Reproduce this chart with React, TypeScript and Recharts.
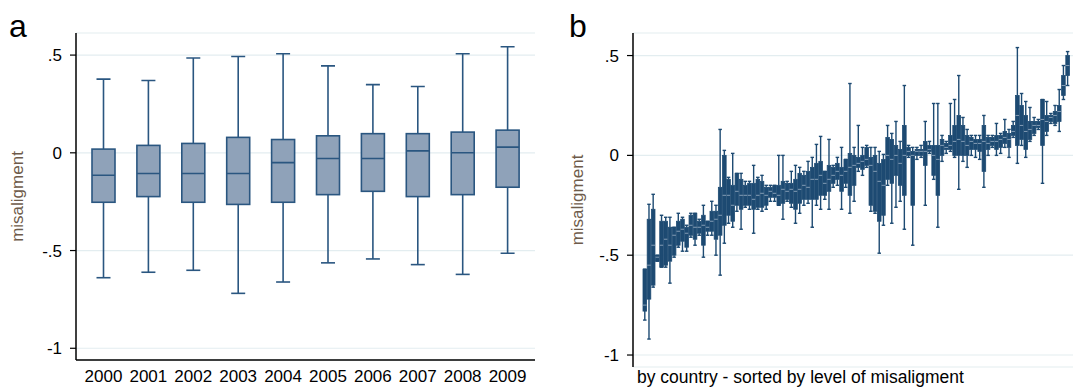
import { ComposedChart, Bar, XAxis, YAxis, CartesianGrid } from "recharts";

// panel a: yearly distribution of misalignment
const years = ["2000", "2001", "2002", "2003", "2004", "2005", "2006", "2007", "2008", "2009"];
const yearHigh = [0.377, 0.37, 0.485, 0.493, 0.507, 0.445, 0.349, 0.339, 0.507, 0.543];
const yearQ3 = [0.019, 0.038, 0.048, 0.079, 0.068, 0.087, 0.098, 0.098, 0.106, 0.116];
const yearMed = [-0.115, -0.106, -0.106, -0.106, -0.05, -0.029, -0.029, 0.01, 0.0, 0.029];
const yearQ1 = [-0.253, -0.224, -0.253, -0.264, -0.253, -0.214, -0.197, -0.224, -0.214, -0.176];
const yearLow = [-0.639, -0.611, -0.601, -0.719, -0.661, -0.563, -0.543, -0.572, -0.622, -0.514];

// panel b: one box per country, sorted by level
const countryHigh = [
  -0.57, -0.245, -0.195, -0.5, -0.3, -0.31, -0.31, -0.36, -0.29, -0.31,
  -0.35, -0.29, -0.29, -0.32, -0.25, -0.33, -0.23, -0.25, 0.13, 0.025,
  -0.11, 0.01, -0.09, -0.09, -0.13, -0.13, -0.05, -0.11, -0.1, -0.15,
  -0.15, -0.15, 0.0, 0.0, -0.13, -0.08, -0.05, -0.06, -0.08, -0.03,
  -0.01, 0.055, 0.095, -0.08, 0.08, -0.05, -0.01, 0.04, -0.02, 0.36,
  0.04, 0.15, 0.04, 0.05, 0.04, 0.04, 0.02, 0.005, 0.15, 0.11,
  0.17, 0.07, 0.35, 0.05, 0.04, 0.04, 0.05, 0.17, 0.07, 0.26,
  0.26, 0.1, 0.07, 0.26, 0.28, 0.4, 0.19, 0.13, 0.1, 0.1,
  0.1, 0.2, 0.1, 0.1, 0.16, 0.11, 0.18, 0.13, 0.17, 0.54,
  0.31, 0.27, 0.24, 0.19, 0.18, 0.28, 0.27, 0.21, 0.25, 0.33,
  0.45, 0.52,
];
const countryQ3 = [
  -0.57, -0.32, -0.27, -0.5, -0.33, -0.33, -0.36, -0.36, -0.33, -0.32,
  -0.36, -0.3, -0.29, -0.33, -0.3, -0.33, -0.28, -0.28, -0.16, 0.0,
  -0.12, -0.15, -0.09, -0.12, -0.15, -0.14, -0.14, -0.12, -0.13, -0.16,
  -0.16, -0.15, -0.15, -0.13, -0.14, -0.14, -0.12, -0.09, -0.1, -0.08,
  -0.06, -0.04, -0.03, -0.08, -0.05, -0.06, -0.04, -0.06, -0.02, 0.01,
  0.0, -0.01, 0.0, 0.04, -0.01, 0.0, -0.04, -0.02, 0.09, 0.08,
  0.05, 0.03, 0.15, 0.04, 0.02, 0.03, 0.03, 0.07, 0.05, 0.05,
  0.05, 0.08, 0.06, 0.1, 0.15, 0.2, 0.15, 0.1, 0.09, 0.08,
  0.08, 0.15, 0.09, 0.09, 0.1, 0.1, 0.12, 0.11, 0.15, 0.3,
  0.25, 0.2, 0.17, 0.17, 0.17, 0.28, 0.2, 0.2, 0.22, 0.25,
  0.4, 0.5,
];
const countryMed = [
  -0.75, -0.55, -0.45, -0.51, -0.45, -0.42, -0.45, -0.4, -0.38, -0.37,
  -0.39, -0.35, -0.36, -0.36, -0.35, -0.36, -0.33, -0.32, -0.3, -0.2,
  -0.2, -0.25, -0.18, -0.2, -0.2, -0.2, -0.22, -0.2, -0.19, -0.2,
  -0.18, -0.19, -0.2, -0.17, -0.18, -0.17, -0.18, -0.17, -0.15, -0.16,
  -0.12, -0.12, -0.1, -0.14, -0.12, -0.1, -0.08, -0.1, -0.08, -0.06,
  -0.05, -0.04, -0.03, -0.02, -0.05, -0.08, -0.13, -0.15, 0.0, -0.02,
  0.0, -0.04, 0.0, 0.02, 0.0, 0.02, 0.02, 0.02, 0.03, 0.0,
  -0.02, 0.05, 0.04, 0.05, 0.07, 0.08, 0.07, 0.05, 0.07, 0.06,
  0.06, 0.07, 0.06, 0.07, 0.07, 0.08, 0.09, 0.08, 0.12, 0.2,
  0.15, 0.12, 0.13, 0.15, 0.15, 0.18, 0.17, 0.19, 0.2, 0.22,
  0.35, 0.45,
];
const countryQ1 = [
  -0.78, -0.72, -0.65, -0.53, -0.56, -0.55, -0.53, -0.5, -0.45, -0.43,
  -0.46, -0.4, -0.42, -0.39, -0.45, -0.38, -0.38, -0.42, -0.4, -0.35,
  -0.3, -0.33, -0.25, -0.27, -0.25, -0.25, -0.27, -0.26, -0.26, -0.25,
  -0.21, -0.21, -0.25, -0.24, -0.22, -0.24, -0.27, -0.24, -0.22, -0.22,
  -0.22, -0.22, -0.2, -0.2, -0.18, -0.14, -0.12, -0.18, -0.14, -0.2,
  -0.15, -0.06, -0.07, -0.05, -0.25, -0.28, -0.33, -0.3, -0.12, -0.14,
  -0.1, -0.15, -0.2, 0.0, -0.25, 0.0, 0.0, -0.05, 0.02, -0.1,
  -0.2, 0.0, 0.03, 0.03, 0.0, 0.0, 0.0, 0.0, 0.03, 0.03,
  0.02, -0.08, 0.03, 0.05, 0.03, 0.04, 0.06, 0.04, 0.1, 0.05,
  0.08, 0.03, 0.08, 0.11, 0.14, 0.05, 0.12, 0.17, 0.16, 0.17,
  0.3, 0.4,
];
const countryLow = [
  -0.825, -0.92, -0.66, -0.53, -0.56, -0.56, -0.64, -0.51, -0.46, -0.48,
  -0.48, -0.41, -0.45, -0.4, -0.51, -0.4, -0.4, -0.5, -0.6, -0.44,
  -0.34, -0.36, -0.28, -0.37, -0.26, -0.27, -0.39, -0.27, -0.28, -0.27,
  -0.23, -0.23, -0.25, -0.32, -0.23, -0.26, -0.34, -0.29, -0.25, -0.24,
  -0.36, -0.25, -0.27, -0.22, -0.27, -0.16, -0.15, -0.27, -0.16, -0.29,
  -0.23, -0.08, -0.1, -0.06, -0.28, -0.29, -0.49, -0.35, -0.15, -0.34,
  -0.26, -0.23, -0.37, -0.01, -0.45, -0.02, -0.01, -0.25, 0.01, -0.12,
  -0.36, -0.03, 0.01, 0.02, -0.01, -0.17, -0.03, -0.06, 0.0, -0.01,
  -0.02, -0.16, 0.0, 0.04, 0.0, 0.01, 0.04, -0.01, 0.09, -0.04,
  0.05, -0.01, 0.07, 0.1, 0.13, -0.14, 0.1, 0.16, 0.15, 0.12,
  0.28, 0.35,
];

const yTicks = [-1, -0.5, 0, 0.5];
const yTickLabels = ["-1", "-.5", "0", ".5"];
const yDomain = [-1.06, 0.613];

const FONT = '"Liberation Sans", Arial, sans-serif';
const TITLE_COLOR = "#6e5b4a";

const yearData = years.map((year, i) => ({
  year,
  high: yearHigh[i],
  q3: yearQ3[i],
  med: yearMed[i],
  q1: yearQ1[i],
  low: yearLow[i],
}));

const countryData = countryHigh.map((high, i) => ({
  country: `c${i + 1}`,
  high,
  q3: countryQ3[i],
  med: countryMed[i],
  q1: countryQ1[i],
  low: countryLow[i],
}));

type BoxStyle = {
  fill: string;
  stroke: string;
  median: string;
  capWidth: number;
  lineWidth: number;
  boxStroke: number;
};

// range bar spans low..high; inner marks are placed within that pixel span
function makeBoxShape(s: BoxStyle) {
  return (props: any) => {
    const { x, y, width, height, payload } = props;
    if (x == null || y == null || !payload) return <g />;
    const top = Math.min(y, y + height);
    const bottom = Math.max(y, y + height);
    const span = payload.high - payload.low;
    const toY = (v: number) =>
      span === 0 ? top : top + ((payload.high - v) / span) * (bottom - top);
    const cx = x + width / 2;
    const q3y = toY(payload.q3);
    const q1y = toY(payload.q1);
    const my = toY(payload.med);
    const half = s.capWidth / 2;
    return (
      <g>
        <line x1={cx} x2={cx} y1={top} y2={q3y} stroke={s.stroke} strokeWidth={s.lineWidth} />
        <line x1={cx} x2={cx} y1={q1y} y2={bottom} stroke={s.stroke} strokeWidth={s.lineWidth} />
        <line x1={cx - half} x2={cx + half} y1={top} y2={top} stroke={s.stroke} strokeWidth={s.lineWidth} />
        <line x1={cx - half} x2={cx + half} y1={bottom} y2={bottom} stroke={s.stroke} strokeWidth={s.lineWidth} />
        <rect
          x={x}
          y={q3y}
          width={width}
          height={Math.max(q1y - q3y, 1)}
          fill={s.fill}
          stroke={s.stroke}
          strokeWidth={s.boxStroke}
        />
        <line x1={x} x2={x + width} y1={my} y2={my} stroke={s.median} strokeWidth={s.boxStroke} />
      </g>
    );
  };
}

const yearBox = makeBoxShape({
  fill: "#8fa2b9",
  stroke: "#2a5680",
  median: "#2a5680",
  capWidth: 14,
  lineWidth: 1.6,
  boxStroke: 1.6,
});

const countryBox = makeBoxShape({
  fill: "#1d4a72",
  stroke: "#1d4a72",
  median: "#9fb2c6",
  capWidth: 3.5,
  lineWidth: 1.4,
  boxStroke: 0.8,
});

const tickFmt = (v: number) => yTickLabels[yTicks.indexOf(v)] ?? String(v);
const tickStyle = { fill: "#000", fontSize: 17, fontFamily: FONT };

function PanelA() {
  return (
    <ComposedChart
      width={540}
      height={387}
      data={yearData}
      margin={{ top: 33, right: 5, bottom: 0, left: 0 }}
    >
      <CartesianGrid vertical={false} stroke="#e3edf0" strokeWidth={1.2} />
      <XAxis
        dataKey="year"
        interval={0}
        height={27}
        padding={{ left: 5, right: 5 }}
        tickLine={false}
        axisLine={{ stroke: "#000", strokeWidth: 1.5 }}
        tick={tickStyle}
        tickMargin={4}
      />
      <YAxis
        width={76}
        domain={yDomain}
        ticks={yTicks}
        tickFormatter={tickFmt}
        allowDataOverflow
        axisLine={{ stroke: "#000", strokeWidth: 1.5 }}
        tickLine={{ stroke: "#000", strokeWidth: 1.2 }}
        tick={tickStyle}
        tickMargin={8}
        label={{
          value: "misaligment",
          angle: -90,
          position: "insideLeft",
          offset: 17,
          style: { textAnchor: "middle", fill: TITLE_COLOR, fontSize: 17, fontFamily: FONT },
        }}
      />
      <Bar
        dataKey={(d: any) => [d.low, d.high]}
        barSize={23}
        shape={yearBox}
        isAnimationActive={false}
      />
    </ComposedChart>
  );
}

function PanelB() {
  return (
    <ComposedChart
      width={533}
      height={387}
      data={countryData}
      margin={{ top: 33, right: 0, bottom: 0, left: 0 }}
    >
      <CartesianGrid vertical={false} stroke="#e3edf0" strokeWidth={1.2} />
      <XAxis
        dataKey="country"
        height={20}
        padding={{ left: 10, right: 3 }}
        tick={false}
        tickLine={false}
        axisLine={false}
        label={{
          value: "by country - sorted by level of misaligment",
          position: "insideTopLeft",
          offset: 4,
          style: { fill: "#000", fontSize: 17.5, fontFamily: FONT },
        }}
      />
      <YAxis
        width={93}
        domain={yDomain}
        ticks={yTicks}
        tickFormatter={tickFmt}
        allowDataOverflow
        axisLine={{ stroke: "#000", strokeWidth: 1.5 }}
        tickLine={{ stroke: "#000", strokeWidth: 1.2 }}
        tick={tickStyle}
        tickMargin={8}
        label={{
          value: "misaligment",
          angle: -90,
          position: "insideLeft",
          offset: 37,
          style: { textAnchor: "middle", fill: TITLE_COLOR, fontSize: 17, fontFamily: FONT },
        }}
      />
      <Bar
        dataKey={(d: any) => [d.low, d.high]}
        barSize={3.6}
        shape={countryBox}
        isAnimationActive={false}
      />
    </ComposedChart>
  );
}

export default function App() {
  return (
    <div
      style={{
        position: "absolute",
        left: 0,
        top: 0,
        width: 1073,
        height: 387,
        background: "#fff",
        overflow: "hidden",
        fontFamily: FONT,
      }}
    >
      <div style={{ position: "absolute", left: 0, top: 0 }}>
        <PanelA />
      </div>
      <div style={{ position: "absolute", left: 540, top: 0 }}>
        <PanelB />
      </div>
      <div style={{ position: "absolute", left: 9, top: 10, fontSize: 32, lineHeight: "32px" }}>a</div>
      <div style={{ position: "absolute", left: 569, top: 10, fontSize: 32, lineHeight: "32px" }}>b</div>
    </div>
  );
}
